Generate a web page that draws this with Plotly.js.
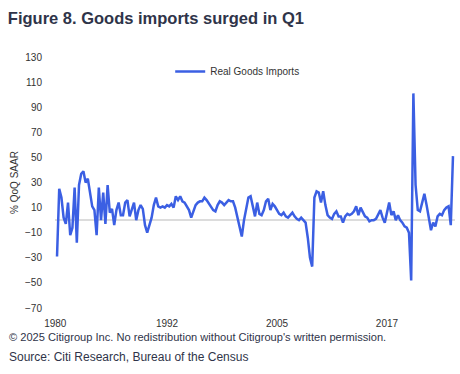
<!DOCTYPE html>
<html>
<head>
<meta charset="utf-8">
<script src="https://cdn.plot.ly/plotly-3.0.1.min.js"></script>
<style>
  html, body { margin: 0; padding: 0; background: #fff; }
  #chart { width: 460px; height: 374px; }
</style>
</head>
<body>
<div id="chart"></div>
<script>
// Real goods imports, % QoQ SAAR, quarterly from 1980Q1
const startYear = 1980;
const seriesName = "Real Goods Imports";
const imports = [
  -29, 25, 18, 2, -3, 14, -12, -6, 26, -18, 28, 37, 39, 30, 33, 22,
  11, 8, -12, 26, 0, 22, -3, 28, 6, 9, -4, 8, 14, 4, 4, 14,
  16, 3, 8, 14, 0, 8, 12, 9, -4, -10, -4, 2, 12, 18, 11, 10,
  11, 10, 12, 11, 13, 10, 19, 16, 19, 15, 14, 11, 8, 2, 7, 12,
  14, 15, 15, 18, 16, 13, 11, 8, 7, 12, 15, 14, 12, 14, 16, 15,
  15, 10, 3, -5, -13, 0, 8, 18, 19, 11, 3, 14, 5, 4, 8, 15,
  17, 8, 13, 11, 8, 5, 4, 6, 3, 2, 4, 6, 3, 1, 0, 2,
  0, -2, -14, -30, -37, 18, 23, 22, 14, 23, 12, 4, 2, 1, 5, 7,
  3, 3, -2, 3, 5, 4, 5, 7, 11, 4, 10, 6, 3, 2, -1, 0,
  0, 1, 4, 8, 2, -2, 6, 14, 4, 7, 0, 4, 0, -2, -5, -6,
  -10, -48, 101, 28, 8, 7, 14, 21, 12, 2, -8, -2, -5, 3, 5, 4,
  8, 10, 11, -4, 51
];
const tickYears = ["1980", "1992", "2005", "2017"];
const tickPositions = [1979.8, 1992.5, 2005, 2017.5];
const yTicks = [-70, -50, -30, -10, 10, 30, 50, 70, 90, 110, 130];

const xTime = imports.map((_, i) => startYear + i / 4);

const trace = {
  x: xTime,
  y: imports,
  type: "scatter",
  mode: "lines",
  name: seriesName,
  line: { color: "#3b5fe3", width: 2.5 },
  showlegend: true
};

const sans = "'Liberation Sans', Arial, sans-serif";
const layout = {
  width: 460,
  height: 374,
  paper_bgcolor: "#ffffff",
  plot_bgcolor: "#ffffff",
  margin: { l: 55, r: 5, t: 57, b: 66 },
  title: {
    text: "<b>Figure 8. Goods imports surged in Q1</b>",
    font: { family: sans, size: 16.5, color: "#2f3449" },
    x: 0.017, xanchor: "left", xref: "container",
    y: 0.952, yanchor: "middle", yref: "container"
  },
  xaxis: {
    range: [1979.77, 2025.23],
    tickmode: "array",
    tickvals: tickPositions,
    ticktext: tickYears,
    showgrid: false,
    zeroline: false,
    showline: false,
    ticks: "",
    ticklabelstandoff: 8,
    tickfont: { family: sans, size: 10, color: "#333333" },
    fixedrange: true
  },
  yaxis: {
    range: [-70, 130],
    tickmode: "array",
    tickvals: yTicks,
    showgrid: false,
    zeroline: true,
    zerolinecolor: "#dcdcdc",
    zerolinewidth: 2,
    showline: false,
    ticks: "",
    ticklabelstandoff: 12,
    tickfont: { family: sans, size: 10, color: "#333333" },
    title: {
      text: "% QoQ SAAR",
      font: { family: sans, size: 10, color: "#333333" },
      standoff: 4
    },
    fixedrange: true
  },
  legend: {
    x: 0.288, y: 1.0, xanchor: "left", yanchor: "top",
    bgcolor: "rgba(0,0,0,0)",
    font: { family: sans, size: 10, color: "#333333" }
  },
  annotations: [
    {
      text: "© 2025 Citigroup Inc. No redistribution without Citigroup's written permission.",
      xref: "paper", yref: "paper", x: -0.12, y: -0.115,
      xanchor: "left", yanchor: "middle", showarrow: false,
      font: { family: sans, size: 11.1, color: "#2f3449" }
    },
    {
      text: "Source: Citi Research, Bureau of the Census",
      xref: "paper", yref: "paper", x: -0.12, y: -0.195,
      xanchor: "left", yanchor: "middle", showarrow: false,
      font: { family: sans, size: 12, color: "#2f3449" }
    }
  ]
};

Plotly.newPlot("chart", [trace], layout, { displayModeBar: false, staticPlot: true });
</script>
</body>
</html>
